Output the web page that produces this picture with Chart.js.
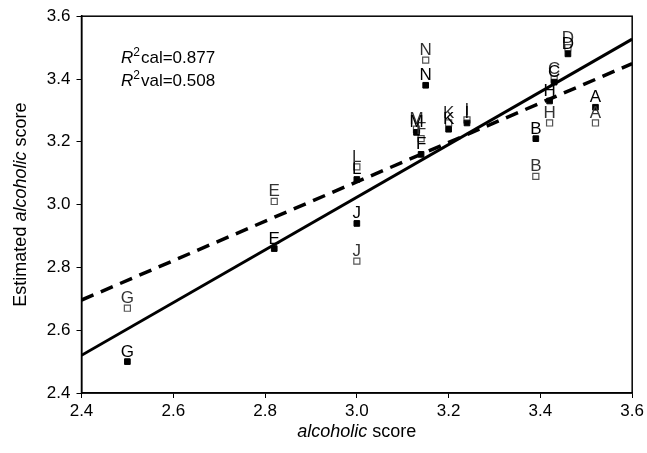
<!DOCTYPE html>
<html>
<head>
<meta charset="utf-8">
<script src="https://cdn.jsdelivr.net/npm/chart.js@4.4.1/dist/chart.umd.min.js"></script>
<style>
  html, body { margin: 0; padding: 0; background: #fff; }
  #wrap { width: 647px; height: 453px; }
</style>
</head>
<body>
<div id="wrap"><canvas id="chart" width="647" height="453"></canvas></div>
<script>
// samples (letters), actual score and estimated scores
const letters = ['A', 'B', 'C', 'D', 'E', 'F', 'G', 'H', 'I', 'J', 'K', 'L', 'M', 'N'];
const actualScore = [3.52, 3.39, 3.43, 3.46, 2.82, 3.14, 2.50, 3.42, 3.24, 3.00, 3.20, 3.00, 3.13, 3.15];
const calEstimate = [3.31, 3.21, 3.39, 3.48, 2.86, 3.16, 2.50, 3.33, 3.26, 2.94, 3.24, 3.08, 3.23, 3.38];
const valEstimate = [3.26, 3.09, 3.40, 3.50, 3.01, 3.21, 2.67, 3.26, 3.27, 2.82, 3.26, 3.12, 3.24, 3.46];

// regression lines (end points)
const fitX = [2.4, 3.6];
const calFitY = [2.52, 3.527];
const valFitY = [2.696, 3.449];

const xTicks = [2.4, 2.6, 2.8, 3.0, 3.2, 3.4, 3.6];
const yTicks = [2.4, 2.6, 2.8, 3.0, 3.2, 3.4, 3.6];

const FONT = '"Liberation Sans", Arial, Helvetica, sans-serif';

const toPoints = (xs, ys) => xs.map((x, i) => ({ x: x, y: ys[i] }));

// letters above the squares, r-squared text, axis titles, frame
const annotate = {
    id: 'annotate',
    afterDatasetsDraw(chart) {
        const ctx = chart.ctx;
        ctx.save();
        ctx.font = '17px ' + FONT;
        ctx.textAlign = 'center';
        ctx.textBaseline = 'alphabetic';
        [1, 0].forEach(di => {
            const meta = chart.getDatasetMeta(di);
            ctx.fillStyle = di === 0 ? '#000' : '#333';
            meta.data.forEach((pt, i) => {
                ctx.fillText(letters[i], pt.x, pt.y - 5);
            });
        });
        ctx.restore();
    },
    afterDraw(chart) {
        const ctx = chart.ctx;
        const a = chart.chartArea;
        ctx.save();
        // frame
        ctx.strokeStyle = '#000';
        ctx.lineWidth = 1.5;
        ctx.strokeRect(a.left, a.top, a.right - a.left, a.bottom - a.top);

        // r squared
        ctx.fillStyle = '#000';
        ctx.textBaseline = 'alphabetic';
        ctx.textAlign = 'left';
        const r2 = (txt, x, y) => {
            ctx.font = 'italic 17px ' + FONT;
            ctx.fillText('R', x, y);
            x += ctx.measureText('R').width;
            ctx.font = '12px ' + FONT;
            ctx.fillText('2', x, y - 7);
            x += ctx.measureText('2').width + 1;
            ctx.font = '17px ' + FONT;
            ctx.fillText(txt, x, y);
        };
        r2('cal=0.877', 121, 63);
        r2('val=0.508', 121, 86);

        // axis titles with italic word
        const mixed = (parts, cx, cy) => {
            let w = 0;
            parts.forEach(p => { ctx.font = p[1] + '18px ' + FONT; w += ctx.measureText(p[0]).width; });
            let x = cx - w / 2;
            parts.forEach(p => {
                ctx.font = p[1] + '18px ' + FONT;
                ctx.fillText(p[0], x, cy);
                x += ctx.measureText(p[0]).width;
            });
        };
        ctx.textBaseline = 'middle';
        mixed([['alcoholic', 'italic '], [' score', '']], (a.left + a.right) / 2, 432);
        ctx.translate(21, (a.top + a.bottom) / 2);
        ctx.rotate(-Math.PI / 2);
        mixed([['Estimated ', ''], ['alcoholic', 'italic '], [' score', '']], 0, 0);
        ctx.restore();
    }
};

new Chart(document.getElementById('chart'), {
    type: 'scatter',
    data: {
        datasets: [
            {
                label: 'calibration',
                data: toPoints(actualScore, calEstimate),
                pointStyle: 'rect',
                pointRadius: 4,
                backgroundColor: '#000',
                borderColor: '#000',
                borderWidth: 1,
                order: 2
            },
            {
                label: 'validation',
                data: toPoints(actualScore, valEstimate),
                pointStyle: 'rect',
                pointRadius: 4.3,
                backgroundColor: '#fff',
                borderColor: '#555',
                borderWidth: 1.2,
                order: 3
            },
            {
                type: 'line',
                label: 'cal fit',
                data: toPoints(fitX, calFitY),
                borderColor: '#000',
                borderWidth: 3,
                pointRadius: 0,
                fill: false,
                order: 0
            },
            {
                type: 'line',
                label: 'val fit',
                data: toPoints(fitX, valFitY),
                borderColor: '#000',
                borderWidth: 3.5,
                borderDash: [13, 8],
                pointRadius: 0,
                fill: false,
                order: 1
            }
        ]
    },
    plugins: [annotate],
    options: {
        responsive: false,
        animation: false,
        layout: { padding: { top: 16, right: 11, left: 0, bottom: 0 } },
        plugins: {
            legend: { display: false },
            tooltip: { enabled: false }
        },
        scales: {
            x: {
                type: 'linear',
                min: 2.4,
                max: 3.6,
                afterFit: s => { s.height = 60; },
                afterBuildTicks: s => { s.ticks = xTicks.map(v => ({ value: v })); },
                grid: { drawOnChartArea: false, tickLength: 5, color: '#000', tickWidth: 1 },
                border: { display: true, color: '#000', width: 1.5 },
                ticks: {
                    color: '#000',
                    font: { family: FONT, size: 17 },
                    padding: 3,
                    maxRotation: 0,
                    callback: v => v.toFixed(1)
                }
            },
            y: {
                type: 'linear',
                min: 2.4,
                max: 3.6,
                afterFit: s => { s.width = 81.5; },
                afterBuildTicks: s => { s.ticks = yTicks.map(v => ({ value: v })); },
                grid: { drawOnChartArea: false, tickLength: 5, color: '#000', tickWidth: 1 },
                border: { display: true, color: '#000', width: 1.5 },
                ticks: {
                    color: '#000',
                    font: { family: FONT, size: 17 },
                    padding: 6,
                    callback: v => v.toFixed(1)
                }
            }
        }
    }
});
</script>
</body>
</html>
